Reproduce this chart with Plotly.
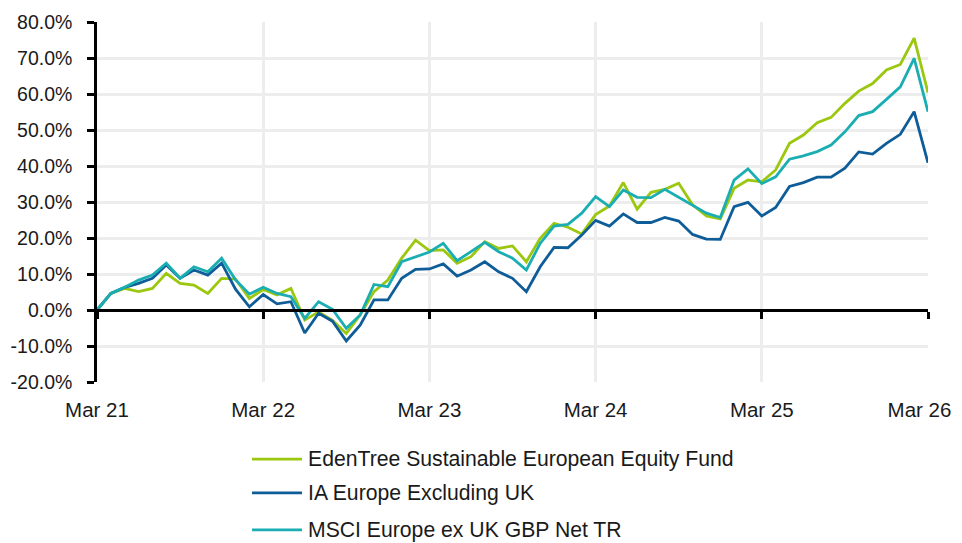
import plotly.graph_objects as go

months = list(range(61))
x_tick_positions = [0, 12, 24, 36, 48, 60]
x_tick_labels = ["Mar 21", "Mar 22", "Mar 23", "Mar 24", "Mar 25", "Mar 26"]
y_tick_values = [-0.2, -0.1, 0.0, 0.1, 0.2, 0.3, 0.4, 0.5, 0.6, 0.7, 0.8]
y_tick_labels = ["-20.0%", "-10.0%", "0.0%", "10.0%", "20.0%", "30.0%",
                 "40.0%", "50.0%", "60.0%", "70.0%", "80.0%"]

edentree = [0.0, 4.6, 6.0, 5.1, 6.0, 10.2, 7.4, 6.9, 4.6, 8.8, 8.6, 3.2,
            5.7, 4.2, 6.0, -2.8, -0.5, -2.9, -6.5, -1.4, 5.1, 8.3, 14.4, 19.4,
            16.5, 16.7, 13.0, 14.8, 19.0, 17.1, 17.8, 13.4, 19.9, 24.1, 23.0, 21.1,
            26.5, 28.9, 35.4, 28.0, 32.7, 33.5, 35.2, 29.2, 26.1, 25.3, 33.8, 36.1,
            35.6, 38.9, 46.3, 48.6, 52.0, 53.5, 57.4, 60.8, 62.9, 66.7, 68.2, 75.5,
            60.4]
ia_europe = [0.0, 4.6, 6.3, 7.4, 8.8, 12.5, 8.8, 11.1, 9.7, 13.0, 5.8, 0.9,
             4.3, 1.7, 2.3, -6.4, -0.9, -3.1, -8.6, -4.2, 2.8, 2.8, 8.8, 11.3,
             11.4, 12.8, 9.4, 11.1, 13.4, 10.6, 8.8, 5.1, 12.0, 17.4, 17.3, 20.8,
             24.9, 23.3, 26.7, 24.3, 24.3, 25.7, 24.7, 21.0, 19.7, 19.6, 28.7, 29.9,
             26.1, 28.5, 34.3, 35.4, 36.9, 36.9, 39.4, 43.9, 43.3, 46.3, 48.8, 55.1,
             40.9]
msci = [0.0, 4.6, 6.3, 8.3, 9.7, 13.0, 8.8, 12.0, 10.6, 14.4, 8.4, 4.4,
        6.3, 4.6, 3.7, -2.3, 2.3, 0.2, -5.1, -1.4, 7.1, 6.5, 13.4, 14.8,
        16.1, 18.5, 13.7, 16.2, 18.8, 16.2, 14.4, 11.1, 18.5, 23.3, 23.8, 26.9,
        31.5, 28.7, 33.3, 31.3, 31.2, 33.5, 31.3, 29.2, 26.9, 25.7, 36.1, 39.2,
        35.1, 37.0, 41.9, 42.8, 44.0, 45.8, 49.5, 54.0, 55.1, 58.5, 62.0, 69.9,
        55.1]

series_names = ["EdenTree Sustainable European Equity Fund",
                "IA Europe Excluding UK",
                "MSCI Europe ex UK GBP Net TR"]
series_values = [edentree, ia_europe, msci]
colors = ["#9BC70F", "#0E5D98", "#1AAEB3"]

fig = go.Figure()
for name, vals, col in zip(series_names, series_values, colors):
    fig.add_trace(go.Scatter(
        x=months, y=[v / 100 for v in vals], mode="lines", name=name,
        line=dict(color=col, width=2.8), showlegend=False,
    ))

# invisible helper so the overlay axis (drawn at y = 0) is rendered
fig.add_trace(go.Scatter(x=[0, 60], y=[0, 0], xaxis="x2", mode="lines",
                         line=dict(color="rgba(0,0,0,0)"), showlegend=False,
                         hoverinfo="skip"))

font = "Liberation Sans, Arial, sans-serif"
text_color = "#1a1a1a"

# legend drawn as shapes + text below the plot
legend_rows_y = [-0.214, -0.308, -0.411]
for name, col, yy in zip(series_names, colors, legend_rows_y):
    fig.add_shape(type="line", xref="paper", yref="paper",
                  x0=0.1865, x1=0.2467, y0=yy, y1=yy,
                  line=dict(color=col, width=2.8))
    fig.add_annotation(xref="paper", yref="paper", x=0.2515, y=yy,
                       xanchor="left", yanchor="middle", text=name,
                       showarrow=False, font=dict(size=21.2, color=text_color,
                                                  family=font))

# pad the last label so it stays inside the page edge
x_tick_text = x_tick_labels[:-1] + [x_tick_labels[-1] + "\u00a0" * 3]

fig.update_layout(
    width=954, height=535,
    margin=dict(l=89, r=34, t=14, b=161),
    paper_bgcolor="white", plot_bgcolor="white",
    font=dict(family=font, size=19, color=text_color),
    showlegend=False,
    xaxis=dict(range=[0, 60], tickvals=x_tick_positions, ticktext=x_tick_text,
               showgrid=True, gridcolor="#EDEDED", gridwidth=2.5,
               showline=False, ticks="", zeroline=False, automargin=False,
               ticklabeloverflow="allow",
               tickfont=dict(size=20.5, color=text_color), ticklabelstandoff=13),
    xaxis2=dict(range=[0, 60], matches="x", overlaying="x", anchor="free",
                position=0.2, tickvals=x_tick_positions, showticklabels=False,
                showgrid=False, showline=True, linecolor="black", linewidth=2.5,
                ticks="outside", ticklen=7, tickwidth=2.5, tickcolor="black",
                zeroline=False, automargin=False),
    yaxis=dict(range=[-0.2, 0.8], tickvals=y_tick_values, ticktext=y_tick_labels,
               showgrid=True, gridcolor="#EDEDED", gridwidth=2.5,
               showline=True, linecolor="black", linewidth=2.5,
               ticks="outside", ticklen=7, tickwidth=2.5, tickcolor="black",
               zeroline=False, automargin=False,
               tickfont=dict(size=19.5, color=text_color), ticklabelstandoff=11),
)

fig.write_html("out.html")
